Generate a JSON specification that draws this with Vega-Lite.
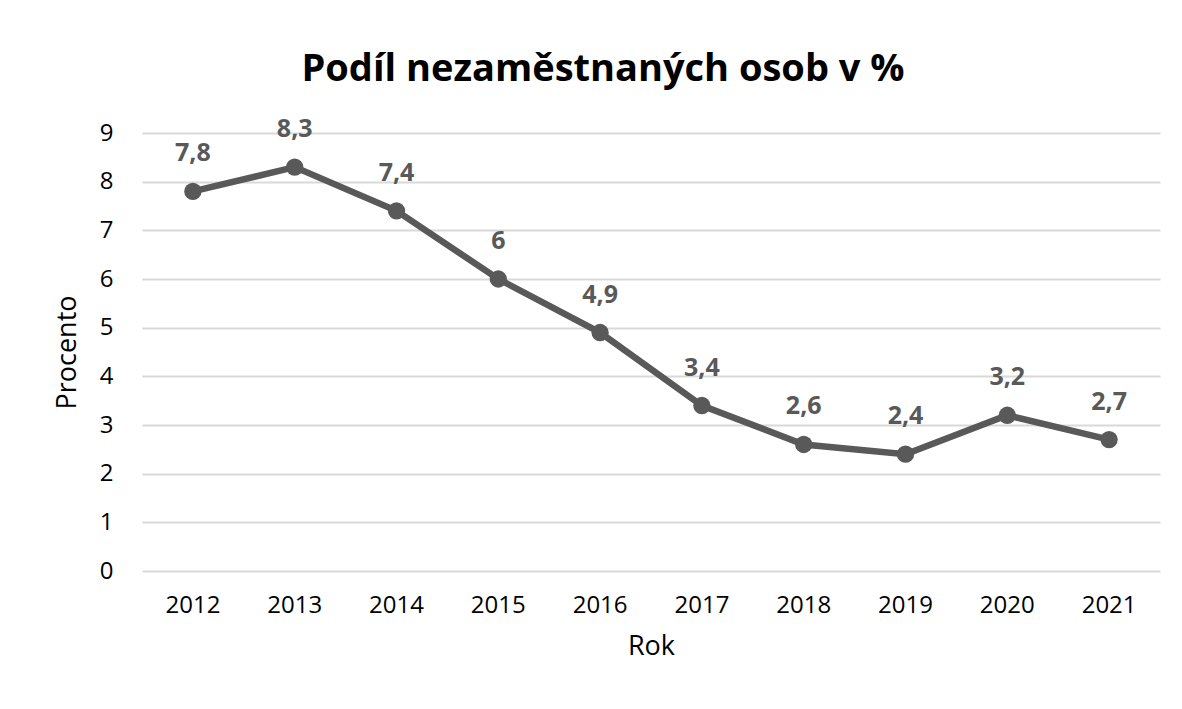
{
  "$schema": "https://vega.github.io/schema/vega-lite/v6.json",
  "width": 1018,
  "height": 438,
  "autosize": {"type": "none"},
  "padding": {"left": 142, "top": 133, "right": 22, "bottom": 138},
  "background": "white",
  "title": {
    "text": "Podíl nezaměstnaných osob v %",
    "font": "Open Sans",
    "fontSize": 38,
    "fontWeight": "bold",
    "color": "#000000",
    "anchor": "middle",
    "dx": -48,
    "offset": 28
  },
  "config": {
    "locale": {"number": {"decimal": ",", "thousands": " ", "grouping": [3], "currency": ["", " Kč"]}},
    "view": {"stroke": null},
    "font": "Open Sans"
  },
  "data": {
    "values": [
      {"Rok": "2012", "Procento": 7.8},
      {"Rok": "2013", "Procento": 8.3},
      {"Rok": "2014", "Procento": 7.4},
      {"Rok": "2015", "Procento": 6.0},
      {"Rok": "2016", "Procento": 4.9},
      {"Rok": "2017", "Procento": 3.4},
      {"Rok": "2018", "Procento": 2.6},
      {"Rok": "2019", "Procento": 2.4},
      {"Rok": "2020", "Procento": 3.2},
      {"Rok": "2021", "Procento": 2.7}
    ]
  },
  "encoding": {
    "x": {
      "field": "Rok",
      "type": "ordinal",
      "scale": {"type": "band", "paddingInner": 0, "paddingOuter": 0},
      "axis": {
        "title": "Rok",
        "labelAngle": 0,
        "domain": false,
        "ticks": false,
        "labelFontSize": 24,
        "labelColor": "#000000",
        "labelPadding": 22,
        "labelOverlap": false,
        "titleFontSize": 27,
        "titleFontWeight": "normal",
        "titleColor": "#000000",
        "titlePadding": 16
      }
    },
    "y": {
      "field": "Procento",
      "type": "quantitative",
      "scale": {"domain": [0, 9], "nice": false},
      "axis": {
        "title": "Procento",
        "values": [0, 1, 2, 3, 4, 5, 6, 7, 8, 9],
        "labelOverlap": false,
        "domain": false,
        "ticks": false,
        "grid": true,
        "gridColor": "#d9d9d9",
        "gridWidth": 2,
        "labelFontSize": 24,
        "labelColor": "#000000",
        "labelPadding": 29,
        "titleFontSize": 27,
        "titleFontWeight": "normal",
        "titleColor": "#000000",
        "titlePadding": 18
      }
    }
  },
  "layer": [
    {"mark": {"type": "line", "color": "#595959", "strokeWidth": 6.5}},
    {"mark": {"type": "point", "filled": true, "color": "#595959", "size": 300, "opacity": 1}},
    {
      "mark": {"type": "text", "dy": -38, "fontSize": 25, "fontWeight": "bold", "color": "#595959", "font": "Open Sans"},
      "encoding": {"text": {"field": "Procento", "type": "quantitative", "format": "~g"}}
    }
  ]
}
